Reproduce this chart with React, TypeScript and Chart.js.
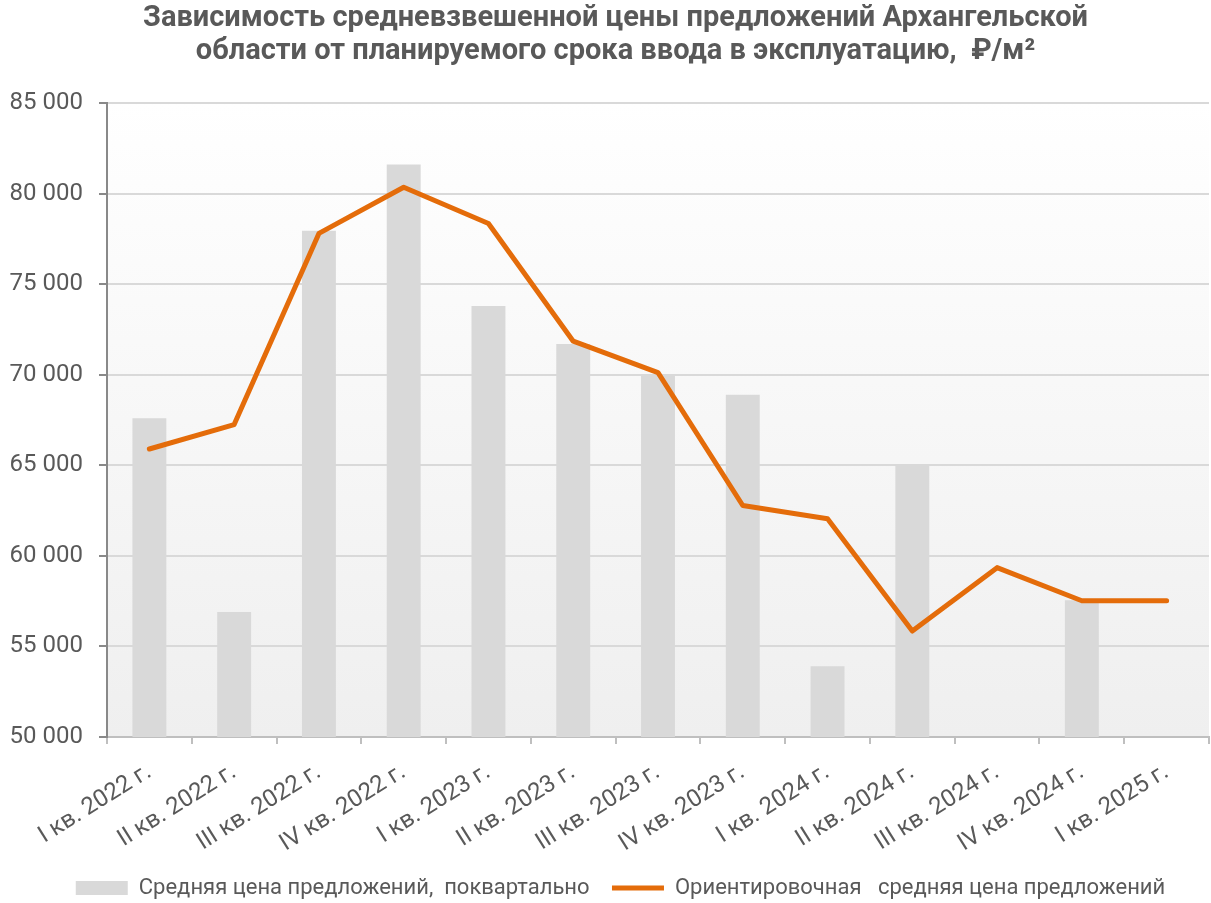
import React, { useEffect, useRef } from "react";
import { Chart, registerables } from "chart.js";

Chart.register(...registerables);

const categories = [
  "I кв. 2022 г.",
  "II кв. 2022 г.",
  "III кв. 2022 г.",
  "IV кв. 2022 г.",
  "I кв. 2023 г.",
  "II кв. 2023 г.",
  "III кв. 2023 г.",
  "IV кв. 2023 г.",
  "I кв. 2024 г.",
  "II кв. 2024 г.",
  "III кв. 2024 г.",
  "IV кв. 2024 г.",
  "I кв. 2025 г.",
];

const quarterlyPrice: (number | null)[] = [
  67600, 56900, 77950, 81600, 73800, 71700, 70000, 68900, 53900, 65000, null, 57550, null,
];

const estimatedPrice = [
  65900, 67250, 77800, 80350, 78350, 71850, 70120, 62780, 62050, 55850, 59350, 57520, 57520,
];

const titleLines = [
  "Зависимость средневзвешенной цены предложений Архангельской",
  "области от планируемого срока ввода в эксплуатацию,  ₽/м²",
];

const seriesNames = [
  "Средняя цена предложений,  поквартально   ",
  "Ориентировочная   средняя цена предложений",
];

const TEXT = "#595959";
const FONT = "Roboto, 'Noto Sans', sans-serif";

const bgPlugin = {
  id: "plotBg",
  beforeDraw(chart: any) {
    const { ctx, chartArea } = chart;
    if (!chartArea) return;
    const g = ctx.createLinearGradient(0, chartArea.top, 0, chartArea.bottom);
    g.addColorStop(0, "#ffffff");
    g.addColorStop(1, "#efefef");
    ctx.save();
    ctx.fillStyle = g;
    ctx.fillRect(chartArea.left, chartArea.top, chartArea.right - chartArea.left, chartArea.bottom - chartArea.top);
    ctx.restore();
  },
};

// shift legend and title boxes so they are centred like the reference
const shiftPlugin = {
  id: "shiftBoxes",
  afterLayout(chart: any) {
    const lg = chart.legend;
    if (lg) {
      lg.left += 16;
      lg.right += 16;
    }
    const tt = chart.titleBlock;
    if (tt) {
      tt.left += 11;
      tt.right += 11;
    }
  },
};

export default function App() {
  const ref = useRef<HTMLCanvasElement | null>(null);
  useEffect(() => {
    document.body.style.margin = "0";
    const chart = new Chart(ref.current as HTMLCanvasElement, {
      type: "bar",
      data: {
        labels: categories,
        datasets: [
          {
            type: "bar",
            label: seriesNames[0],
            data: quarterlyPrice,
            backgroundColor: "#d9d9d9",
            borderWidth: 0,
            barPercentage: 0.4,
            categoryPercentage: 1,
            order: 1,
            pointStyle: "rect",
          } as any,
          {
            type: "line",
            label: seriesNames[1],
            data: estimatedPrice,
            borderColor: "#e46c0a",
            backgroundColor: "#e46c0a",
            borderWidth: 5,
            pointRadius: 0,
            borderCapStyle: "round",
            borderJoinStyle: "round",
            tension: 0,
            order: 0,
            pointStyle: "line",
          } as any,
        ],
      },
      options: {
        animation: false,
        responsive: true,
        maintainAspectRatio: false,
        layout: { padding: { left: 0, right: 2, top: 0, bottom: -6 } },
        plugins: {
          title: {
            display: true,
            text: titleLines,
            color: TEXT,
            font: { family: FONT, size: 29, weight: "bold", lineHeight: 1.138 },
            padding: { top: 2, bottom: 35 },
          },
          legend: {
            position: "bottom",
            labels: {
              usePointStyle: true,
              pointStyleWidth: 52,
              boxHeight: 14,
              color: TEXT,
              font: { family: FONT, size: 22 },
              padding: 6,
              sort: (a: any, b: any) => a.datasetIndex - b.datasetIndex,
            },
          },
          tooltip: { enabled: false },
        },
        scales: {
          x: {
            offset: true,
            grid: {
              offset: true,
              drawOnChartArea: false,
              drawTicks: true,
              tickLength: 7,
              color: "#bfbfbf",
              lineWidth: 2,
            },
            border: { display: true, color: "#bfbfbf", width: 2 },
            ticks: {
              autoSkip: false,
              maxRotation: 32,
              minRotation: 32,
              color: TEXT,
              font: { family: FONT, size: 24 },
              padding: 14,
            },
            afterFit: (scale: any) => {
              scale.height = 134;
            },
          },
          y: {
            min: 50000,
            max: 85000,
            grid: {
              color: "#d9d9d9",
              lineWidth: 2,
              tickLength: 8,
              tickColor: "#898989",
              tickWidth: 2,
            },
            border: { display: true, color: "#898989", width: 2 },
            ticks: {
              stepSize: 5000,
              color: TEXT,
              font: { family: FONT, size: 24 },
              padding: 16,
              callback: (v: any) => {
                const n = Number(v);
                return String(n).replace(/\B(?=(\d{3})+(?!\d))/g, " ");
              },
            },
            afterFit: (scale: any) => {
              scale.width = 107;
            },
          },
        },
      },
      plugins: [bgPlugin, shiftPlugin],
    });
    return () => chart.destroy();
  }, []);
  return (
    <div style={{ width: 1211, height: 903, position: "relative" }}>
      <canvas ref={ref} />
    </div>
  );
}
